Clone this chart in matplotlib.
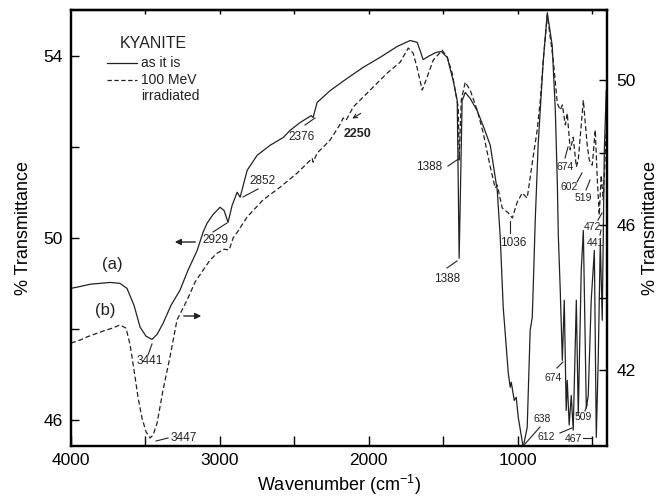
import numpy as np
import matplotlib.pyplot as plt
from matplotlib.lines import Line2D

plt.rcParams['font.family'] = ['Liberation Sans', 'DejaVu Sans']
plt.rcParams['mathtext.fontset'] = 'custom'
plt.rcParams['mathtext.rm'] = 'Liberation Sans'

# (a) kyanite as it is -> left axis
wn_a = [4000, 3940, 3872, 3805, 3738, 3671, 3624, 3577, 3536, 3496, 3456, 3422, 3382, 3328,
        3268, 3214, 3153, 3113, 3086, 3046, 2999, 2972, 2945, 2918, 2884, 2864, 2817, 2750,
        2663, 2575, 2528, 2461, 2387, 2374, 2347, 2260, 2145, 2038, 1924, 1809, 1722, 1675,
        1655, 1635, 1601, 1547, 1514, 1473, 1433, 1406, 1393, 1373, 1352, 1319, 1272, 1225,
        1184, 1137, 1117, 1097, 1063, 1050, 1043, 1023, 1010, 996, 963, 936, 916, 902, 896,
        882, 862, 828, 801, 768, 747, 734, 727, 714, 700, 687, 674, 667, 654, 640, 627, 606,
        593, 573, 559, 539, 526, 506, 485, 472, 459, 445, 432, 418, 405]
tr_a = [48.89, 48.93, 48.98, 49.00, 49.02, 49.00, 48.89, 48.52, 48.04, 47.84, 47.77, 47.88,
        48.12, 48.52, 48.85, 49.29, 49.72, 50.12, 50.32, 50.51, 50.67, 50.60, 50.34, 50.71,
        51.00, 50.89, 51.48, 51.81, 52.03, 52.20, 52.36, 52.53, 52.68, 52.64, 52.97, 53.23,
        53.50, 53.74, 53.96, 54.20, 54.33, 54.29, 54.11, 53.91, 53.98, 54.07, 54.09, 53.96,
        53.45, 53.01, 49.55, 53.01, 53.19, 53.06, 52.79, 52.40, 52.03, 51.04, 50.01, 48.47,
        47.03, 46.72, 46.83, 46.43, 46.50, 46.06, 45.40, 45.84, 47.97, 48.25, 48.85, 50.38,
        52.07, 53.89, 54.94, 54.22, 52.79, 51.26, 50.05, 48.85, 47.31, 48.63, 46.21, 46.87,
        45.89, 46.54, 45.78, 48.63, 46.10, 49.29, 50.16, 46.26, 46.54, 48.63, 49.72, 45.62,
        47.31, 49.94, 48.19, 51.92, 53.23]

# (b) 100 MeV irradiated -> right axis
wn_b = [4000, 3940, 3892, 3839, 3785, 3724, 3671, 3630, 3603, 3577, 3550, 3523, 3496, 3469,
        3449, 3422, 3382, 3335, 3288, 3220, 3167, 3113, 3066, 3019, 2972, 2938, 2911, 2878,
        2817, 2710, 2596, 2481, 2407, 2380, 2374, 2347, 2260, 2192, 2172, 2152, 2105, 1991,
        1876, 1789, 1735, 1702, 1675, 1641, 1608, 1567, 1507, 1473, 1440, 1420, 1399, 1393,
        1379, 1352, 1319, 1272, 1231, 1184, 1151, 1137, 1104, 1063, 1036, 1003, 969, 936,
        902, 869, 848, 828, 801, 761, 734, 714, 700, 680, 667, 647, 627, 606, 593, 559, 533,
        519, 499, 479, 465, 452, 439, 425, 405]
tr_b = [42.75, 42.83, 42.92, 43.00, 43.08, 43.16, 43.25, 43.16, 42.70, 42.01, 41.26, 40.68,
        40.30, 40.13, 40.21, 40.54, 41.45, 42.37, 43.39, 43.94, 44.43, 44.76, 45.04, 45.23,
        45.34, 45.32, 45.65, 45.84, 46.23, 46.70, 47.05, 47.44, 47.74, 47.85, 47.74, 47.99,
        48.35, 48.79, 48.96, 48.90, 49.26, 49.73, 50.20, 50.50, 50.89, 50.75, 50.34, 49.73,
        50.09, 50.56, 50.83, 50.64, 50.20, 49.73, 49.26, 47.80, 49.45, 49.95, 49.73, 49.18,
        48.54, 47.61, 47.03, 47.11, 46.48, 46.34, 46.20, 46.64, 46.89, 46.75, 47.72, 48.63,
        49.45, 50.56, 51.80, 50.56, 49.37, 49.18, 49.32, 48.77, 49.09, 48.08, 48.43, 47.61,
        47.80, 49.45, 48.21, 47.80, 47.66, 48.63, 47.25, 46.28, 47.38, 46.70, 48.63]

# peak labels: text, text centre (px), pointer start, pointer end (px from top-left)
peaks = [
    ("3441", 150, 361, 148, 355, 152, 344, 8.5),
    ("3447", 184, 438, 156, 441, 168, 438, 8.5),
    ("2929", 215, 240, 213, 232, 227, 223, 8.5),
    ("2852", 262, 181, 243, 197, 258, 189, 8.5),
    ("2376", 302, 137, 305, 125, 315, 118, 8.5),
    ("1388", 429, 167, 448, 166, 460, 158, 8.5),
    ("1388", 447, 279, 447, 268, 457, 261, 8.5),
    ("1036", 513, 243, 510, 221, 510, 233, 8.5),
    ("638", 542, 419, 525, 444, 540, 427, 7.5),
    ("612", 546, 437, 560, 433, 572, 428, 7.5),
    ("467", 573, 439, 583, 438, 591, 438, 7.5),
    ("674", 553, 378, 557, 368, 563, 362, 7.5),
    ("509", 583, 417, 585, 411, 587, 405, 7.5),
    ("441", 595, 243, 600, 235, 601, 230, 7.5),
    ("472", 592, 227, 598, 220, 602, 213, 7.5),
    ("674", 565, 167, 565, 158, 568, 147, 7.5),
    ("602", 569, 187, 577, 182, 582, 173, 7.5),
    ("519", 583, 198, 586, 190, 590, 180, 7.5),
]

W, H = 669, 496
col = '#222222'
fig = plt.figure(figsize=(W / 100, H / 100), dpi=100)
ax = fig.add_axes([71 / W, 50 / H, 536 / W, 436 / H])
ax2 = ax.twinx()

ax.plot(wn_a, tr_a, color=col, lw=0.9)
ax2.plot(wn_b, tr_b, color=col, lw=0.9, dashes=(4, 2.2))

ax.set_xlim(4000, 400)
ax.set_ylim(45.43, 55.0)
ax2.set_ylim(39.91, 51.94)

ax.set_xticks([4000, 3000, 2000, 1000])
ax.set_xticks([3500, 2500, 1500, 500], minor=True)
ax.set_yticks([46, 50, 54])
ax.set_yticks([48, 52], minor=True)
ax2.set_yticks([42, 46, 50])
ax2.set_yticks([44, 48], minor=True)

ax.tick_params(axis='x', which='both', direction='in', length=7.5, width=1, labelsize=12.5, pad=5)
ax.tick_params(axis='y', which='both', direction='in', length=6, width=1, labelsize=12.5, pad=6)
ax2.tick_params(axis='y', which='both', direction='in', length=6, width=1, labelsize=12.5, pad=7)

top = ax.secondary_xaxis('top')
top.set_xticks([3500, 3000, 2500, 2000, 1500, 1000, 500])
top.tick_params(direction='in', length=3, width=1, labeltop=False)
top.spines['top'].set_linewidth(1.6)

for a in (ax, ax2):
    for s in a.spines.values():
        s.set_linewidth(1.6)

ax.set_xlabel('Wavenumber (cm$^{-1}$)', fontsize=13)
ax.xaxis.set_label_coords(0.5, -0.062)
ax.set_ylabel('% Transmittance', fontsize=13)
ax.yaxis.set_label_coords(-0.072, 0.5)
ax2.set_ylabel('% Transmittance', fontsize=13)
ax2.yaxis.set_label_coords(1.066, 0.5)


def fp(x, y):
    return x / W, 1 - y / H


def seg(x0, y0, x1, y1, **kw):
    (a0, b0), (a1, b1) = fp(x0, y0), fp(x1, y1)
    fig.add_artist(Line2D([a0, a1], [b0, b1], transform=fig.transFigure,
                          color=col, lw=kw.pop('lw', 0.8), **kw))


for txt, tx, ty, x0, y0, x1, y1, fs in peaks:
    fig.text(*fp(tx, ty), txt, fontsize=fs, ha='center', va='center', color=col)
    seg(x0, y0, x1, y1)

fig.text(*fp(358, 134), "2250", fontsize=9, fontweight='bold', ha='center', va='center', color=col)
ax.annotate('', xy=fp(350, 120), xytext=fp(363, 112), xycoords='figure fraction',
            textcoords='figure fraction',
            arrowprops=dict(arrowstyle='->', color=col, lw=0.8, mutation_scale=7))

# axis arrows
ax.annotate('', xy=fp(172, 242), xytext=fp(198, 242), xycoords='figure fraction',
            textcoords='figure fraction',
            arrowprops=dict(arrowstyle='-|>', color=col, lw=1.0, mutation_scale=9))
ax.annotate('', xy=fp(204, 316), xytext=fp(181, 316), xycoords='figure fraction',
            textcoords='figure fraction',
            arrowprops=dict(arrowstyle='-|>', color=col, lw=1.0, mutation_scale=9))

fig.text(*fp(112, 265), "(a)", fontsize=12, ha='center', va='center', color=col)
fig.text(*fp(105, 310), "(b)", fontsize=12, ha='center', va='center', color=col)

# legend block
fig.text(*fp(153, 43), "KYANITE", fontsize=11.5, ha='center', va='center', color=col)
seg(107, 63, 137, 63, lw=0.9)
seg(107, 80, 137, 80, lw=0.9, dashes=(3.5, 2))
fig.text(*fp(141, 63), "as it is", fontsize=10, ha='left', va='center', color=col)
fig.text(*fp(141, 80), "100 MeV", fontsize=10, ha='left', va='center', color=col)
fig.text(*fp(141, 96), "irradiated", fontsize=10, ha='left', va='center', color=col)

fig.savefig('out.png', dpi=100)
